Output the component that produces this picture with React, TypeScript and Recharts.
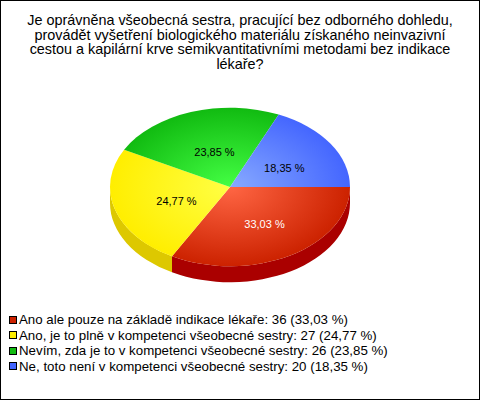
import { PieChart, Pie, Legend } from 'recharts';

const titleLines = [
  'Je oprávněna všeobecná sestra, pracující bez odborného dohledu,',
  'provádět vyšetření biologického materiálu získaného neinvazivní',
  'cestou a kapilární krve semikvantitativními metodami bez indikace',
  'lékaře?',
];
const answers = [
  'Ano ale pouze na základě indikace lékaře',
  'Ano, je to plně v kompetenci všeobecné sestry',
  'Nevím, zda je to v kompetenci všeobecné sestry',
  'Ne, toto není v kompetenci všeobecné sestry',
];
const counts = [36, 27, 26, 20];
const baseColors = ['#cc2200', '#ffee00', '#11bb11', '#4466ff'];
const lightColors = ['#ff6644', '#ffff44', '#44ff44', '#88aaff'];
const sideColors = ['#aa0000', '#ddc800', '#0a8a0a', '#2244bb'];
const labelColors = ['#fff', '#000', '#000', '#000'];

const FONT = '"Liberation Sans", Arial, sans-serif';
const TILT = 0.66;
const DEPTH = 16;
const RAD = Math.PI / 180;

const total = counts.reduce((s, v) => s + v, 0);
const pct = (v: number) => ((v / total) * 100).toFixed(2).replace('.', ',');
const data = answers.map((name, i) => ({ name, value: counts[i] }));

function pt(cx: number, cy: number, rx: number, ry: number, a: number) {
  return [cx + rx * Math.cos(a * RAD), cy - ry * Math.sin(a * RAD)];
}

function TopSlice(props: any) {
  const { cx, cy, outerRadius, startAngle, endAngle, index } = props;
  const rx = outerRadius, ry = outerRadius * TILT;
  const [x1, y1] = pt(cx, cy, rx, ry, startAngle);
  const [x2, y2] = pt(cx, cy, rx, ry, endAngle);
  const large = Math.abs(endAngle - startAngle) > 180 ? 1 : 0;
  const id = `top-grad-${index}`;
  return (
    <g>
      <defs>
        <radialGradient id={id} gradientUnits="userSpaceOnUse" cx={cx} cy={cy} r={rx}
          gradientTransform={`translate(${cx},${cy}) scale(1,${TILT}) translate(${-cx},${-cy})`}>
          <stop offset="0" stopColor={lightColors[index]} />
          <stop offset="1" stopColor={baseColors[index]} />
        </radialGradient>
      </defs>
      <path d={`M${cx},${cy} L${x1},${y1} A${rx},${ry} 0 ${large} 1 ${x2},${y2} Z`} fill={`url(#${id})`} />
    </g>
  );
}

// side wall, only the front half (angles 0..-180) is visible
function SideSlice(props: any) {
  const { cx, cy, outerRadius, startAngle, endAngle, index } = props;
  const rx = outerRadius, ry = outerRadius * TILT;
  const hi = Math.min(startAngle, 0);
  const lo = Math.max(endAngle, -180);
  if (lo >= hi) return <g />;
  const [x1, y1] = pt(cx, cy, rx, ry, hi);
  const [x2, y2] = pt(cx, cy, rx, ry, lo);
  return (
    <path
      d={`M${x1},${y1} A${rx},${ry} 0 0 1 ${x2},${y2} L${x2},${y2 + DEPTH} A${rx},${ry} 0 0 0 ${x1},${y1 + DEPTH} Z`}
      fill={sideColors[index]}
    />
  );
}

function renderLabel(props: any) {
  const { cx, cy, midAngle, outerRadius, index } = props;
  const [x, y] = pt(cx, cy, outerRadius * 0.5, outerRadius * TILT * 0.5, midAngle);
  return (
    <text x={x + 4} y={y + 2.5} fill={labelColors[index]} fontSize={11} fontFamily={FONT}
      textAnchor="middle" dominantBaseline="central">
      {`${pct(counts[index])} %`}
    </text>
  );
}

function LegendBox() {
  return (
    <div style={{ font: `13.3px ${FONT}`, lineHeight: '15.5px', color: '#000', whiteSpace: 'nowrap' }}>
      {answers.map((a, i) => (
        <div key={a} style={{ display: 'flex', alignItems: 'center' }}>
          <span style={{
            display: 'inline-block', width: 8, height: 8, boxSizing: 'border-box',
            border: '1px solid #000', background: baseColors[i], marginRight: 2,
          }} />
          {`${a}: ${counts[i]} (${pct(counts[i])} %)`}
        </div>
      ))}
    </div>
  );
}

export default function App() {
  return (
    <div style={{ position: 'absolute', left: 0, top: 0, width: 480, height: 400, background: '#fff' }}>
      <PieChart width={480} height={400} margin={{ top: 0, right: 0, bottom: 0, left: 0 }}>
        <Pie data={data} dataKey="value" cx={230} cy={187} outerRadius={120}
          startAngle={0} endAngle={-360} stroke="none" shape={SideSlice}
          isAnimationActive={false} />
        <Pie data={data} dataKey="value" cx={230} cy={187} outerRadius={120}
          startAngle={0} endAngle={-360} stroke="none" shape={TopSlice}
          label={renderLabel} labelLine={false} isAnimationActive={false} />
        <Legend layout="horizontal" verticalAlign="bottom" align="left" content={<LegendBox />}
          wrapperStyle={{ left: 9, top: 312, bottom: 'auto', width: 'auto', height: 'auto' }} />
      </PieChart>
      <div style={{
        position: 'absolute', left: 0, top: 13, width: 480, textAlign: 'center',
        font: `14.4px ${FONT}`, lineHeight: '14.5px', color: '#000',
      }}>
        {titleLines.map((l) => <div key={l}>{l}</div>)}
      </div>
      <div style={{ position: 'absolute', inset: 0, border: '1px solid #000', pointerEvents: 'none' }} />
    </div>
  );
}
